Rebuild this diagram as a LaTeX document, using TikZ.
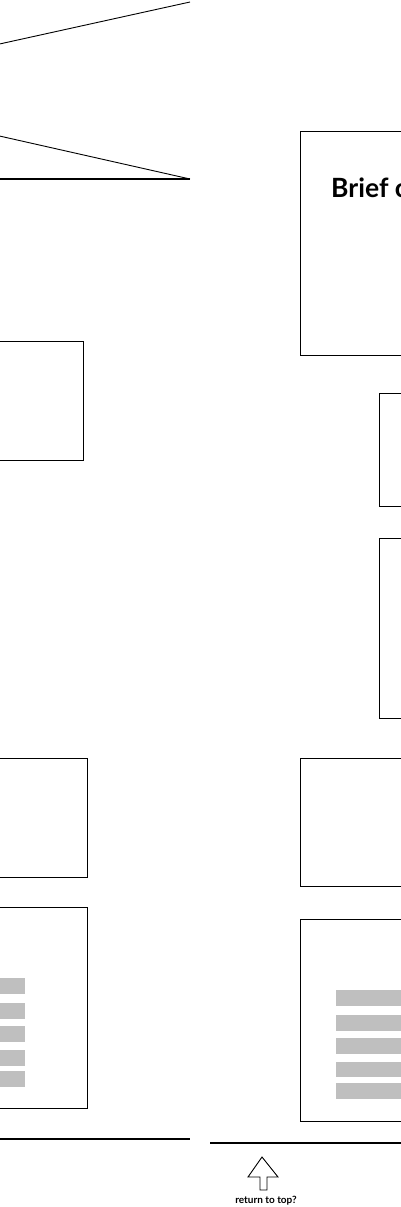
\documentclass[tikz,border=0pt]{standalone}
\usepackage{fontspec}
\setmainfont{Lato}
\begin{document}
\begin{tikzpicture}[x=1pt,y=-1pt,
  wbox/.style={draw=black,line width=1pt,fill=none},
  bar/.style={fill=black!25,draw=none},
  rule/.style={line width=2.8pt,draw=black},
  thin/.style={line width=0.9pt}]
\useasboundingbox (0,0) rectangle (400,1207);
% top-left triangle lines and rule
\coordinate (t1) at (-5,45);
\coordinate (t2) at (190,2);
\coordinate (t3) at (-5,135);
\coordinate (t4) at (190,179);
\coordinate (r1) at (-5,179);
\draw[thin] (t1) -- (t2);
\draw[thin] (t3) -- (t4);
\draw[rule] (r1) -- (t4);
% right column boxes
\draw[wbox] (300,131) rectangle (410,355);
\node[anchor=base west,inner sep=0pt,font=\bfseries\fontsize{26.5}{30}\selectfont] (brief) at (331,197) {Brief c};
\draw[wbox] (379,393) rectangle (410,506);
\draw[wbox] (379,538) rectangle (410,718);
\draw[wbox] (300,758) rectangle (410,886);
\draw[wbox] (300,919) rectangle (410,1121);
\foreach \a/\b in {990/1006,1015/1031,1038/1054,1062/1077,1083/1099}
  \fill[bar] (336,\a) rectangle (410,\b);
% left column boxes
\draw[wbox] (-10,341) rectangle (83,460);
\draw[wbox] (-10,758) rectangle (87,877);
\draw[wbox] (-10,907) rectangle (87,1108);
\foreach \a/\b in {978/994,1003/1019,1026/1042,1050/1066,1071/1087}
  \fill[bar] (-10,\a) rectangle (25,\b);
% bottom rules
\coordinate (b1) at (-5,1139);
\coordinate (b2) at (190,1139);
\coordinate (b3) at (210,1143);
\coordinate (b4) at (405,1143);
\draw[rule] (b1) -- (b2);
\draw[rule] (b3) -- (b4);
% return to top arrow
\draw[thin,line join=miter] (262,1157) -- (278,1177) -- (267,1177) -- (267,1190) -- (260,1190) -- (260,1177) -- (248,1177) -- cycle;
\node[anchor=base,inner sep=0pt,font=\bfseries\fontsize{10}{12}\selectfont] (ret) at (266,1203) {return to top?};
\end{tikzpicture}
\end{document}
